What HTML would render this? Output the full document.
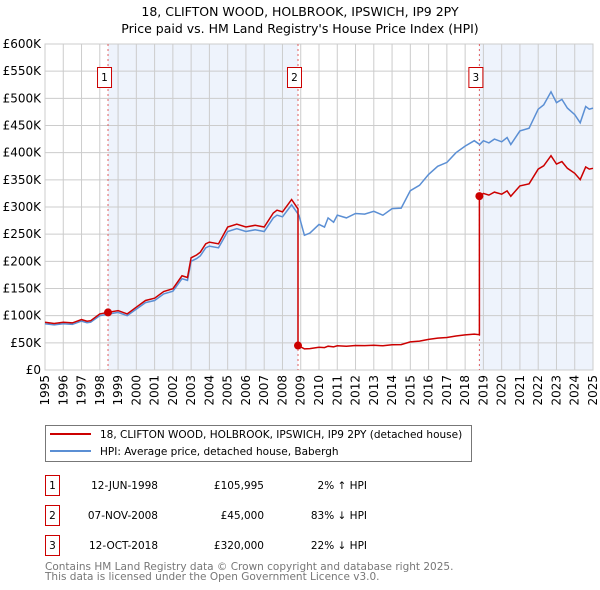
<!DOCTYPE html>
<html><head><meta charset="utf-8"><style>
body{margin:0;background:#fff;width:600px;height:590px;overflow:hidden}
svg{display:block;font-family:"DejaVu Sans","Liberation Sans",sans-serif}
</style></head><body>
<svg id="chart" width="600" height="590" viewBox="0 0 600 590" xmlns="http://www.w3.org/2000/svg">
<text x="300" y="16" font-size="12.5" text-anchor="middle">18, CLIFTON WOOD, HOLBROOK, IPSWICH, IP9 2PY</text>
<text x="300" y="33" font-size="12.5" text-anchor="middle">Price paid vs. HM Land Registry's House Price Index (HPI)</text>
<g id="plot"></g>
<g>
<rect x="45.5" y="425.5" width="426" height="36" fill="#fff" stroke="#777"/>
<line x1="50" y1="434" x2="91" y2="434" stroke="#cc0000" stroke-width="2"/>
<text x="100" y="438" font-size="10.5">18, CLIFTON WOOD, HOLBROOK, IPSWICH, IP9 2PY (detached house)</text>
<line x1="50" y1="451" x2="91" y2="451" stroke="#5b8fd4" stroke-width="2"/>
<text x="100" y="455" font-size="10.5">HPI: Average price, detached house, Babergh</text>
</g>
<g font-size="10.5">
<g><rect x="45.5" y="475.5" width="14" height="20" fill="#fff" stroke="#cc0000"/><text x="52.5" y="489" text-anchor="middle">1</text><text x="158" y="489" text-anchor="end">12-JUN-1998</text><text x="264" y="489" text-anchor="end">£105,995</text><text x="367" y="489" text-anchor="end">2% ↑ HPI</text></g>
<g><rect x="45.5" y="505.5" width="14" height="20" fill="#fff" stroke="#cc0000"/><text x="52.5" y="519" text-anchor="middle">2</text><text x="158" y="519" text-anchor="end">07-NOV-2008</text><text x="264" y="519" text-anchor="end">£45,000</text><text x="367" y="519" text-anchor="end">83% ↓ HPI</text></g>
<g><rect x="45.5" y="535.5" width="14" height="20" fill="#fff" stroke="#cc0000"/><text x="52.5" y="549" text-anchor="middle">3</text><text x="158" y="549" text-anchor="end">12-OCT-2018</text><text x="264" y="549" text-anchor="end">£320,000</text><text x="367" y="549" text-anchor="end">22% ↓ HPI</text></g>
</g>
<text x="45" y="570" font-size="10.5" fill="#777">Contains HM Land Registry data © Crown copyright and database right 2025.</text>
<text x="45" y="580" font-size="10.5" fill="#777">This data is licensed under the Open Government Licence v3.0.</text>
</svg>
<script>
const yTicks=[0,50,100,150,200,250,300,350,400,450,500,550,600];
const xYears=[1995,1996,1997,1998,1999,2000,2001,2002,2003,2004,2005,2006,2007,2008,2009,2010,2011,2012,2013,2014,2015,2016,2017,2018,2019,2020,2021,2022,2023,2024,2025];
const hpiT=[1995,1995.5,1996,1996.5,1997,1997.3,1997.5,1998,1998.5,1999,1999.5,2000,2000.5,2001,2001.5,2002,2002.5,2002.8,2003,2003.3,2003.5,2003.8,2004,2004.5,2005,2005.5,2006,2006.5,2007,2007.5,2007.7,2008,2008.5,2008.9,2009.2,2009.5,2010,2010.3,2010.5,2010.8,2011,2011.5,2012,2012.5,2013,2013.5,2014,2014.5,2015,2015.5,2016,2016.5,2017,2017.5,2018,2018.5,2018.8,2019,2019.3,2019.6,2020,2020.3,2020.5,2021,2021.5,2022,2022.3,2022.7,2023,2023.3,2023.6,2024,2024.3,2024.6,2024.8,2025];
const hpiV=[85,83,85,84,90,87,88,100,103,106,100,112,124,128,140,145,168,165,200,205,210,225,228,225,255,260,255,258,255,280,285,282,304,285,248,252,268,263,280,272,285,280,288,287,292,285,297,298,330,340,360,375,382,400,412,422,415,422,418,425,420,428,415,440,445,480,488,512,492,498,482,470,455,485,480,482];
const saleT=[1998.45,2008.85,2018.78];
const saleP=[105995,45000,320000];
const saleLabels=["1","2","3"];
const ns="http://www.w3.org/2000/svg";
const X0=45,X1=593,Y0=370,Y1=44;
const x=t=>X0+(t-1995)/30*(X1-X0);
const y=v=>Y0-v/600*(Y0-Y1);
function hpiAt(t){for(let i=0;i<hpiT.length-1;i++){if(t<=hpiT[i+1]){const f=(t-hpiT[i])/(hpiT[i+1]-hpiT[i]);return hpiV[i]+f*(hpiV[i+1]-hpiV[i]);}}return hpiV[hpiV.length-1];}
const g=document.getElementById('plot');
function mk(tag,attrs){const e=document.createElementNS(ns,tag);for(const k in attrs)e.setAttribute(k,attrs[k]);g.appendChild(e);return e;}
let e;
e=mk('rect',{x:x(saleT[0]),y:Y1,width:x(saleT[1])-x(saleT[0]),height:Y0-Y1,fill:'#eef3fc'});


e=mk('rect',{x:x(saleT[2]),y:Y1,width:X1-x(saleT[2]),height:Y0-Y1,fill:'#eef3fc'});


yTicks.forEach(v=>{
 e=mk('line',{x1:X0,x2:X1,y1:y(v),y2:y(v),stroke:'#ccc','stroke-width':1});
 
 
 e=mk('text',{x:X0-4,y:y(v)+4,'font-size':12,'text-anchor':'end'});
 e.textContent=v===0?'£0':'£'+v+'K';
 
 
});
xYears.forEach(yr=>{
 e=mk('line',{x1:x(yr),x2:x(yr),y1:Y1,y2:Y0,stroke:'#ccc','stroke-width':1});
 
 
 e=mk('text',{transform:`translate(${x(yr)+4},${Y0+5}) rotate(-90)`,'font-size':12,'text-anchor':'end'});
 e.textContent=yr;
 
 
});
e=mk('rect',{x:X0,y:Y1,width:X1-X0,height:Y0-Y1,fill:'none',stroke:'#ccc'});


saleT.forEach((t,i)=>{
 e=mk('line',{x1:x(t),x2:x(t),y1:Y1,y2:Y0,stroke:'#e06060','stroke-dasharray':'2,3','stroke-width':1});
 
 
});
let d='';hpiT.forEach((t,i)=>{d+=(i?'L':'M')+x(t).toFixed(1)+' '+y(hpiV[i]).toFixed(1);});
e=mk('path',{d:d,fill:'none',stroke:'#5b8fd4','stroke-width':1.5});


let pts=[];
for(let s=0;s<3;s++){
 const start=s===0?1995:saleT[s], end=s<2?saleT[s+1]:2025;
 const base=saleP[s]/1000/hpiAt(saleT[s]);
 const ts=[start].concat(hpiT.filter(t=>t>start&&t<end)).concat([end]);
 ts.forEach(t=>pts.push([t,hpiAt(t)*base]));
}
d='';pts.forEach((p,i)=>{d+=(i?'L':'M')+x(p[0]).toFixed(1)+' '+y(p[1]).toFixed(1);});
e=mk('path',{d:d,fill:'none',stroke:'#cc0000','stroke-width':1.5});


saleT.forEach((t,i)=>{
 e=mk('circle',{cx:x(t),cy:y(saleP[i]/1000),r:4,fill:'#cc0000'});
 
 
 e=mk('rect',{x:x(t)-10.5,y:67.5,width:14,height:20,fill:'#fff',stroke:'#cc0000'});
 
 
 e=mk('text',{x:x(t)-3.5,y:81,'font-size':10.5,'text-anchor':'middle'});
 e.textContent=saleLabels[i];
 
 
});
</script>
</body></html>
